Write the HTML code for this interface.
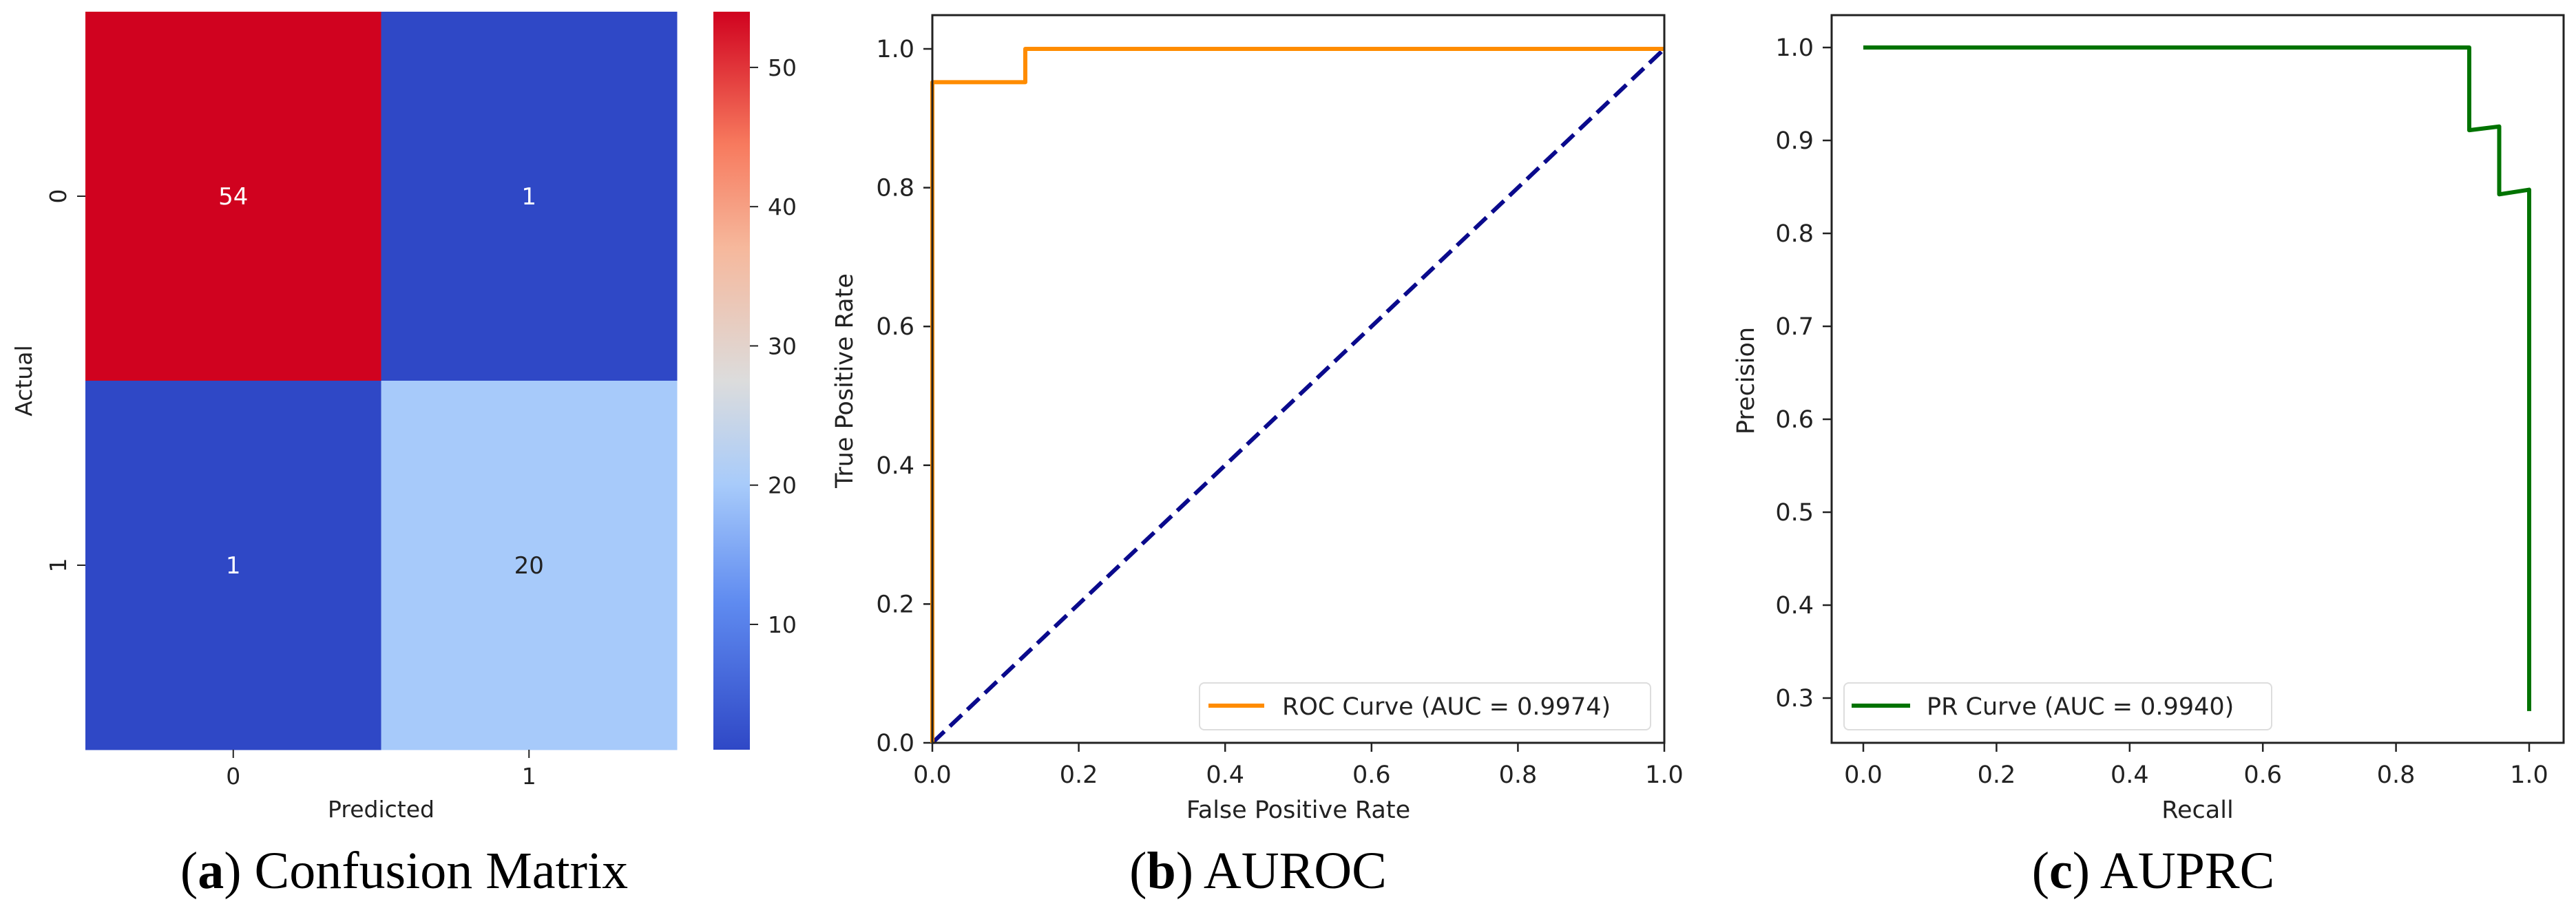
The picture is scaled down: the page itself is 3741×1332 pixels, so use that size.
<!DOCTYPE html>
<html><head><meta charset="utf-8"><style>
html,body{margin:0;padding:0;background:#fff;}
svg{display:block;}
text{font-family:"DejaVu Sans","Liberation Sans",sans-serif;fill:#222;}
.cap{font-family:"Liberation Serif",serif;fill:#000;font-size:76px;}
</style></head><body>
<svg id="fig" xmlns="http://www.w3.org/2000/svg" width="3741" height="1332" viewBox="0 0 3741 1332">
<defs>
<linearGradient id="cw" x1="0" y1="1" x2="0" y2="0">
<stop offset="0" stop-color="#2f48c6"/><stop offset="0.2" stop-color="#5f8bf0"/><stop offset="0.36" stop-color="#a8cbfa"/><stop offset="0.5" stop-color="#dcdcdc"/><stop offset="0.68" stop-color="#f6b89c"/><stop offset="0.82" stop-color="#f77a5e"/><stop offset="1" stop-color="#d0021f"/>
</linearGradient>
</defs>
<g id="hm"></g>
<g id="roc"></g>
<g id="pr"></g>
<text class="cap" x="587" y="1290" text-anchor="middle">(<tspan font-weight="bold">a</tspan>) Confusion Matrix</text>
<text class="cap" x="1827" y="1290" text-anchor="middle">(<tspan font-weight="bold">b</tspan>) AUROC</text>
<text class="cap" x="3127" y="1290" text-anchor="middle">(<tspan font-weight="bold">c</tspan>) AUPRC</text>
</svg>
<script>
// ---- Confusion matrix data ----
const cmRows = ["0","1"];
const cmCols = ["0","1"];
const cmValues = [[54,1],[1,20]];
const cbTicks = [10,20,30,40,50];
const cbMin = 1, cbMax = 54;
// ---- ROC data ----
const rocFpr = [0,0,0.127,0.127,1];
const rocTpr = [0,0.952,0.952,1,1];
const diagX = [0,1];
const diagY = [0,1];
const rocXTicks = [0,0.2,0.4,0.6,0.8,1.0];
const rocYTicks = [0,0.2,0.4,0.6,0.8,1.0];
// ---- PR data ----
const prRecall = [0,0.910,0.910,0.955,0.955,1.0,1.0];
const prPrecision = [1.0,1.0,0.911,0.915,0.842,0.847,0.286];
const prXTicks = [0,0.2,0.4,0.6,0.8,1.0];
const prYTicks = [0.3,0.4,0.5,0.6,0.7,0.8,0.9,1.0];

const NS="http://www.w3.org/2000/svg";
function mk(parent,tag,attrs,txt){const e=document.createElementNS(NS,tag);for(const k in attrs)e.setAttribute(k,attrs[k]);if(txt!==undefined)e.textContent=txt;parent.appendChild(e);return e;}

const cstops=[[0,[47,72,198]],[0.2,[95,139,240]],[0.36,[168,203,250]],[0.5,[220,220,220]],[0.68,[246,184,156]],[0.82,[247,122,94]],[1,[208,2,31]]];
function cmap(v){const t=(v-cbMin)/(cbMax-cbMin);for(let i=1;i<cstops.length;i++){if(t<=cstops[i][0]){const a=cstops[i-1],b=cstops[i];const f=(t-a[0])/(b[0]-a[0]);const c=a[1].map((x,j)=>Math.round(x+(b[1][j]-x)*f));return `rgb(${c.join(',')})`;}}return 'rgb(208,2,31)';}

// ---- heatmap ----
(function(){
const g=document.getElementById('hm');
const L=124,R=983,T=17,B=1089;
const cw=(R-L)/cmCols.length, ch=(B-T)/cmRows.length;
cmValues.forEach((row,i)=>row.forEach((v,j)=>{
  const r=mk(g,'rect',{x:L+j*cw,y:T+i*ch,width:cw+0.5,height:ch+0.5,fill:cmap(v)});
  
  
  const t=mk(g,'text',{x:L+(j+0.5)*cw,y:T+(i+0.5)*ch+12,'text-anchor':'middle','font-size':34,style:'fill:'+(v>=30||v<=10?'#fff':'#222')},String(v));
  
  
}));
cmRows.forEach((lab,i)=>{
  const y=T+(i+0.5)*ch;
  mk(g,'line',{x1:L-12,x2:L,y1:y,y2:y,stroke:'#222','stroke-width':2});
  const t=mk(g,'text',{x:0,y:0,'text-anchor':'middle','font-size':33,transform:`translate(96 ${y}) rotate(-90)`},lab);
  
  
});
cmCols.forEach((lab,j)=>{
  const x=L+(j+0.5)*cw;
  mk(g,'line',{x1:x,x2:x,y1:B,y2:B+12,stroke:'#222','stroke-width':2});
  const t=mk(g,'text',{x:x,y:B+50,'text-anchor':'middle','font-size':33},lab);
  
  
});
const xl=mk(g,'text',{x:(L+R)/2,y:1187,'text-anchor':'middle','font-size':33},'Predicted');


const yl=mk(g,'text',{x:0,y:0,'text-anchor':'middle','font-size':33,transform:`translate(46 ${(T+B)/2}) rotate(-90)`},'Actual');


const cx=1036,cwid=53;
const cb=mk(g,'rect',{x:cx,y:T,width:cwid,height:B-T,fill:'url(#cw)'});


const cy=v=>B-(v-cbMin)/(cbMax-cbMin)*(B-T);
cbTicks.forEach(v=>{
  mk(g,'line',{x1:cx+cwid,x2:cx+cwid+12,y1:cy(v),y2:cy(v),stroke:'#222','stroke-width':2});
  const t=mk(g,'text',{x:cx+cwid+26,y:cy(v)+12,'font-size':33},String(v));
  
  
});
})();

function axes(g,L,R,T,B,xmin,xmax,ymin,ymax,xt,yt,fmt,xlab,ylab,ylabX){
  const sx=v=>L+(v-xmin)/(xmax-xmin)*(R-L);
  const sy=v=>B-(v-ymin)/(ymax-ymin)*(B-T);
  xt.forEach(v=>{mk(g,'line',{x1:sx(v),x2:sx(v),y1:B,y2:B+13,stroke:'#222','stroke-width':2.5});
    const t=mk(g,'text',{x:sx(v),y:B+58,'text-anchor':'middle','font-size':35},v.toFixed(1));
    
    });
  yt.forEach(v=>{mk(g,'line',{x1:L-13,x2:L,y1:sy(v),y2:sy(v),stroke:'#222','stroke-width':2.5});
    const t=mk(g,'text',{x:L-26,y:sy(v)+12,'text-anchor':'end','font-size':35},v.toFixed(1));
    
    });
  const xl=mk(g,'text',{x:(L+R)/2,y:1188,'text-anchor':'middle','font-size':35},xlab);
  
  
  const yl=mk(g,'text',{x:0,y:0,'text-anchor':'middle','font-size':35,transform:`translate(${ylabX} 553) rotate(-90)`},ylab);
  
  
  return {sx,sy};
}
function frame(g,L,R,T,B){const f=mk(g,'rect',{x:L,y:T,width:R-L,height:B-T,fill:'none',stroke:'#222','stroke-width':3});
  
  }

// ---- ROC ----
(function(){
const g=document.getElementById('roc');
const L=1354,R=2417,B=1079,T=22;
const y0=1079,y1=71;
const ymax=1+(y1-T)/(y0-y1), ymin=0;
const {sx,sy}=axes(g,L,R,T,B,0,1,ymin,ymax,rocXTicks,rocYTicks,null,'False Positive Rate','True Positive Rate',1238);
const d=diagX.map((x,i)=>(i?'L':'M')+sx(x)+' '+sy(diagY[i])).join(' ');
const dl=mk(g,'path',{d:d,stroke:'#0a0a8c','stroke-width':6,'stroke-dasharray':'24 11',fill:'none'});


const p=rocFpr.map((x,i)=>(i?'L':'M')+sx(x)+' '+sy(rocTpr[i])).join(' ');
const rl=mk(g,'path',{d:p,stroke:'#ff8c00','stroke-width':6,fill:'none','stroke-linejoin':'round'});


frame(g,L,R,T,B);
const lg=mk(g,'g',{});


mk(lg,'rect',{x:1742,y:992,width:655,height:68,rx:7,fill:'#fff','fill-opacity':0.85,stroke:'#ddd','stroke-width':2});
mk(lg,'line',{x1:1755,x2:1836,y1:1025,y2:1025,stroke:'#ff8c00','stroke-width':6});
const lt=mk(lg,'text',{x:1862,y:1038,'font-size':35},'ROC Curve (AUC = 0.9974)');


})();

// ---- PR ----
(function(){
const g=document.getElementById('pr');
const L=2660,R=3723,B=1079,T=22;
const x0=2706,x1=3673;
const xmin=-(x0-L)/(x1-x0), xmax=1+(R-x1)/(x1-x0);
const yA=69, yB=1014;
const per=(yB-yA)/0.7;
const ymax=1+(yA-T)/per, ymin=0.3-(B-yB)/per;
const {sx,sy}=axes(g,L,R,T,B,xmin,xmax,ymin,ymax,prXTicks,prYTicks,null,'Recall','Precision',2547);
const p=prRecall.map((x,i)=>(i?'L':'M')+sx(x)+' '+sy(prPrecision[i])).join(' ');
const pl=mk(g,'path',{d:p,stroke:'#007300','stroke-width':6,fill:'none','stroke-linejoin':'round'});


frame(g,L,R,T,B);
const lg=mk(g,'g',{});


mk(lg,'rect',{x:2678,y:992,width:621,height:68,rx:7,fill:'#fff','fill-opacity':0.85,stroke:'#ddd','stroke-width':2});
mk(lg,'line',{x1:2689,x2:2774,y1:1025,y2:1025,stroke:'#007300','stroke-width':6});
const lt=mk(lg,'text',{x:2798,y:1038,'font-size':35},'PR Curve (AUC = 0.9940)');


})();
</script>
</body></html>
